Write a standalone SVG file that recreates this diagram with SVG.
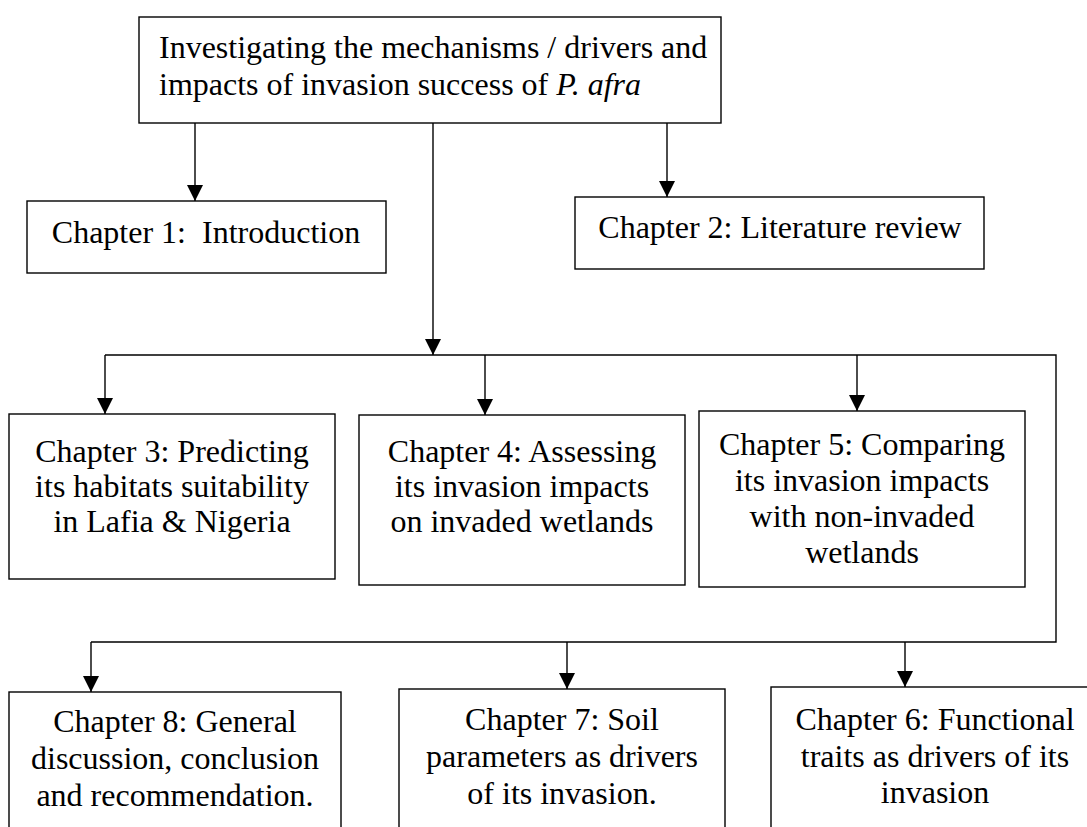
<svg xmlns="http://www.w3.org/2000/svg" width="1087" height="827" viewBox="0 0 1087 827">
<style>
.box{fill:#fff;stroke:#000;stroke-width:1.4}
.t{font-family:"Liberation Serif","Times New Roman",serif;font-size:32px;fill:#000;white-space:pre}
.c{text-anchor:middle}
.ln{fill:none;stroke:#000;stroke-width:1.4}
</style>
<defs>
<marker id="ah" markerUnits="userSpaceOnUse" markerWidth="16" markerHeight="16" refX="15" refY="7.5" orient="auto" viewBox="0 0 15 15">
<path d="M0,0 L15,7.5 L0,15 z" fill="#000"/>
</marker>
</defs>
<rect width="1087" height="827" fill="#fff"/>
<g id="connectors">
<line class="ln" x1="195" y1="123" x2="195" y2="201" marker-end="url(#ah)"/>
<line class="ln" x1="667" y1="123" x2="667" y2="197" marker-end="url(#ah)"/>
<line class="ln" x1="433" y1="123" x2="433" y2="355" marker-end="url(#ah)"/>
<polyline class="ln" points="105,355 1056,355 1056,642 91,642"/>
<line class="ln" x1="105" y1="355" x2="105" y2="414" marker-end="url(#ah)"/>
<line class="ln" x1="485" y1="355" x2="485" y2="415" marker-end="url(#ah)"/>
<line class="ln" x1="857" y1="355" x2="857" y2="411" marker-end="url(#ah)"/>
<line class="ln" x1="91" y1="642" x2="91" y2="692" marker-end="url(#ah)"/>
<line class="ln" x1="567" y1="642" x2="567" y2="689" marker-end="url(#ah)"/>
<line class="ln" x1="905" y1="642" x2="905" y2="687" marker-end="url(#ah)"/>
</g>
<g id="top">
<rect class="box" x="139" y="17" width="582" height="106"/>
<text class="t" x="159" y="58">Investigating the mechanisms / drivers and</text>
<text class="t" x="159" y="95">impacts of invasion success of <tspan font-style="italic">P. afra</tspan></text>
</g>
<g id="ch1">
<rect class="box" x="27" y="201" width="359" height="72"/>
<text class="t c" x="206" y="243">Chapter 1:  Introduction</text>
</g>
<g id="ch2">
<rect class="box" x="575" y="197" width="409" height="72"/>
<text class="t c" x="780" y="238">Chapter 2: Literature review</text>
</g>
<g id="ch3">
<rect class="box" x="9" y="414" width="326" height="165"/>
<text class="t c" x="172" y="462">Chapter 3: Predicting</text>
<text class="t c" x="172" y="497">its habitats suitability</text>
<text class="t c" x="172" y="532">in Lafia &amp; Nigeria</text>
</g>
<g id="ch4">
<rect class="box" x="359" y="415" width="326" height="170"/>
<text class="t c" x="522" y="462">Chapter 4: Assessing</text>
<text class="t c" x="522" y="497">its invasion impacts</text>
<text class="t c" x="522" y="532">on invaded wetlands</text>
</g>
<g id="ch5">
<rect class="box" x="699" y="411" width="326" height="176"/>
<text class="t c" x="862" y="455">Chapter 5: Comparing</text>
<text class="t c" x="862" y="491">its invasion impacts</text>
<text class="t c" x="862" y="527">with non-invaded</text>
<text class="t c" x="862" y="563">wetlands</text>
</g>
<g id="ch8">
<rect class="box" x="9" y="692" width="332" height="150"/>
<text class="t c" x="175" y="732">Chapter 8: General</text>
<text class="t c" x="175" y="769">discussion, conclusion</text>
<text class="t c" x="175" y="806">and recommendation.</text>
</g>
<g id="ch7">
<rect class="box" x="399" y="689" width="326" height="150"/>
<text class="t c" x="562" y="730">Chapter 7: Soil</text>
<text class="t c" x="562" y="767">parameters as drivers</text>
<text class="t c" x="562" y="804">of its invasion.</text>
</g>
<g id="ch6">
<rect class="box" x="771" y="687" width="330" height="150"/>
<text class="t c" x="935" y="730">Chapter 6: Functional</text>
<text class="t c" x="935" y="767">traits as drivers of its</text>
<text class="t c" x="935" y="803">invasion</text>
</g>
</svg>
